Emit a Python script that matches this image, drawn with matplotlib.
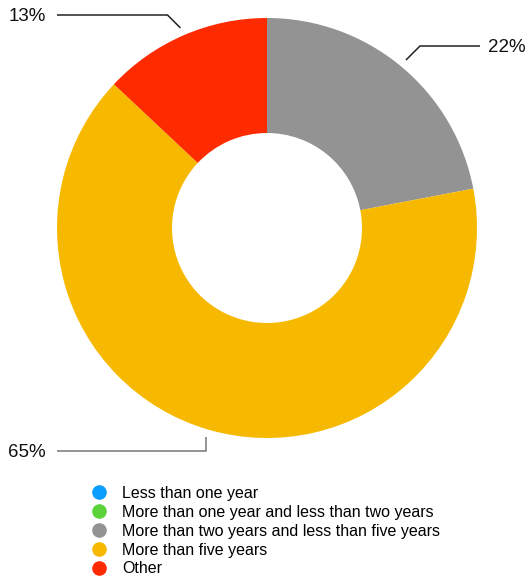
import numpy as np
import matplotlib.pyplot as plt
from matplotlib.lines import Line2D

plt.rcParams['font.family'] = ['Liberation Sans', 'DejaVu Sans']

categories = [
    "Less than one year",
    "More than one year and less than two years",
    "More than two years and less than five years",
    "More than five years",
    "Other",
]
shares = [0, 0, 22, 65, 13]
colors = ["#0A9FFF", "#5BD43C", "#939393", "#F7B900", "#FF2B00"]

W, H = 530, 576
fig = plt.figure(figsize=(W / 100, H / 100), dpi=100)
ax = fig.add_axes([0, 0, 1, 1])

cx, cy, R = 267, H - 228, 210
wedges, _ = ax.pie(
    shares,
    colors=colors,
    startangle=90,
    counterclock=False,
    radius=R,
    center=(cx, cy),
    wedgeprops=dict(width=115, linewidth=0),
)
ax.set_xlim(0, W)
ax.set_ylim(0, H)
ax.set_aspect('equal')
ax.axis('off')

# leader lines: (label y px, line end x, text x, ha, line colour, elbow style)
label_layout = {
    2: (46, 480, 488, 'left', '#222222', 'diag'),
    3: (451, 57, 46, 'right', '#777777', 'vert'),
    4: (15, 57, 46, 'right', '#222222', 'diag'),
}
for i, (w, v) in enumerate(zip(wedges, shares)):
    if v == 0:
        continue
    ly, ex, tx, ha, lc, style = label_layout[i]
    ang = np.deg2rad((w.theta1 + w.theta2) / 2)
    sx = cx + (R + 8) * np.cos(ang)
    sy = cy + (R + 8) * np.sin(ang)
    y = H - ly
    if style == 'diag':
        dy = y - sy
        bx = sx + np.sign(ex - sx) * abs(dy)
    else:
        bx = sx
    ax.plot([sx, bx, ex], [sy, y, y], color=lc, lw=1.1, solid_capstyle='butt')
    ax.text(tx, y - 1.5, f"{v}%", ha=ha, va='center', fontsize=13.5, color='#111111')

handles = [Line2D([0], [0], marker='o', ls='', ms=9.5, mfc=c, mec=c) for c in colors]
fig.legend(
    handles, categories,
    loc='upper left',
    bbox_to_anchor=(91 / W, 1 - 486 / H),
    frameon=False,
    borderpad=0,
    borderaxespad=0,
    handlelength=1,
    handletextpad=0.94,
    labelspacing=0.24,
    fontsize=11.5,
)

fig.savefig("out.png", dpi=100)
